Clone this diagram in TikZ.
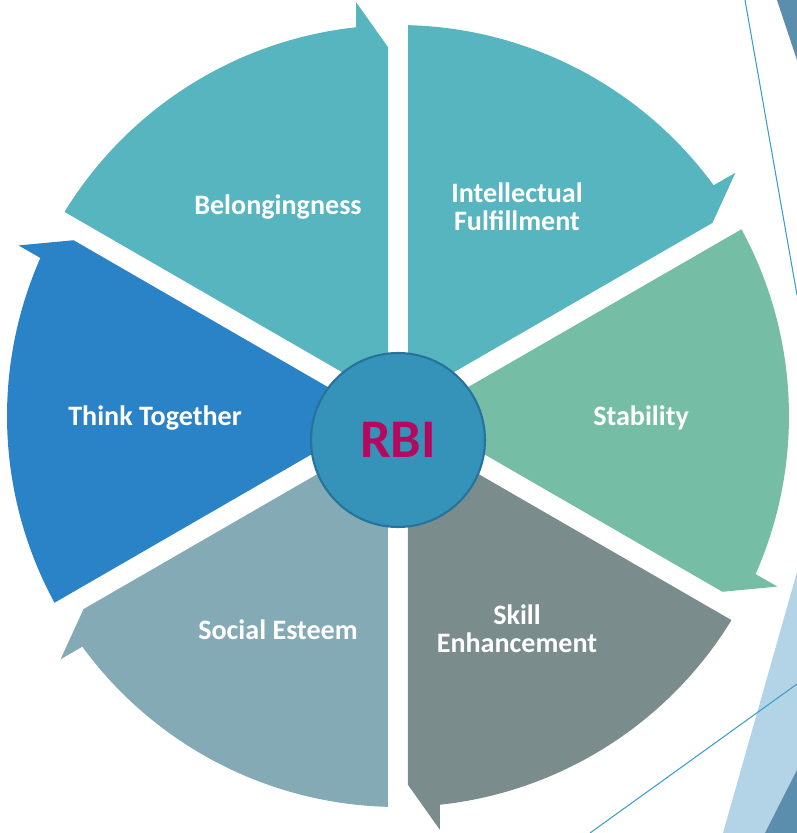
\documentclass[tikz,border=0pt]{standalone}
\usepackage{fontspec}
\setmainfont{Carlito}
\definecolor{tealseg}{HTML}{57B5BF}
\definecolor{greenseg}{HTML}{76BDA6}
\definecolor{grayseg}{HTML}{7A8C8C}
\definecolor{slateseg}{HTML}{84ABB5}
\definecolor{blueseg}{HTML}{2A82C7}
\definecolor{hubfill}{HTML}{3593BA}
\definecolor{hubline}{HTML}{26739B}
\definecolor{rbitext}{HTML}{B5095F}
\definecolor{decoline}{HTML}{3C9CCB}
\definecolor{decofill}{HTML}{B3D4E6}
\definecolor{decodark}{HTML}{5B8DAD}
\tikzset{
  seglabel/.style={text=white,font=\bfseries\fontsize{16}{16}\selectfont,align=center},
  hub/.style={circle,fill=hubfill,draw=hubline,line width=1.2pt,minimum size=3.48cm,inner sep=0pt,text=rbitext,font=\bfseries\fontsize{31}{31}\selectfont}
}
\begin{document}
\begin{tikzpicture}[x=0.02cm,y=0.02cm]
\useasboundingbox (-398,-417) rectangle (399,416);
% background
\fill[decodark] (379,416) -- (399,416) -- (399,356) -- cycle;
\draw[decoline,line width=0.6pt] (347,416) -- (399,121);
\fill[decofill] (399,-156) -- (325,-417) -- (399,-417) -- cycle;
\fill[decodark] (399,-354) -- (367,-417) -- (399,-417) -- cycle;
\draw[decoline,line width=0.6pt] (192,-417) -- (399,-268);
% six arrow segments, clockwise
\fill[tealseg] (60:20) -- (88.53:391) arc[start angle=88.53,end angle=36.16,radius=391] -- (35.79:416) -- (31.55:369) -- cycle;
\fill[greenseg] (0:20) -- (28.53:391) arc[start angle=28.53,end angle=-23.84,radius=391] -- (-24.21:416) -- (-28.45:369) -- cycle;
\fill[grayseg] (-60:20) -- (-31.47:391) arc[start angle=-31.47,end angle=-83.84,radius=391] -- (-84.21:416) -- (-88.45:369) -- cycle;
\fill[slateseg] (-120:20) -- (-91.47:391) arc[start angle=-91.47,end angle=-143.84,radius=391] -- (-144.21:416) -- (-148.45:369) -- cycle;
\fill[blueseg] (180:20) -- (-151.47:391) arc[start angle=-151.47,end angle=-203.84,radius=391] -- (-204.21:416) -- (-208.45:369) -- cycle;
\fill[tealseg] (120:20) -- (148.53:391) arc[start angle=148.53,end angle=96.16,radius=391] -- (95.79:416) -- (91.55:369) -- cycle;
% hub and labels
\node[hub] (rbi) at (0,-24) {RBI};
\node[seglabel] (intel) at (119,209) {Intellectual\\Fulfillment};
\node[seglabel] (stab) at (243,-2) {Stability};
\node[seglabel] (skill) at (119,-213) {Skill\\Enhancement};
\node[seglabel] (social) at (-120,-214) {Social Esteem};
\node[seglabel] (think) at (-243,-2) {Think Together};
\node[seglabel] (belong) at (-120,209) {Belongingness};
\end{tikzpicture}
\end{document}
